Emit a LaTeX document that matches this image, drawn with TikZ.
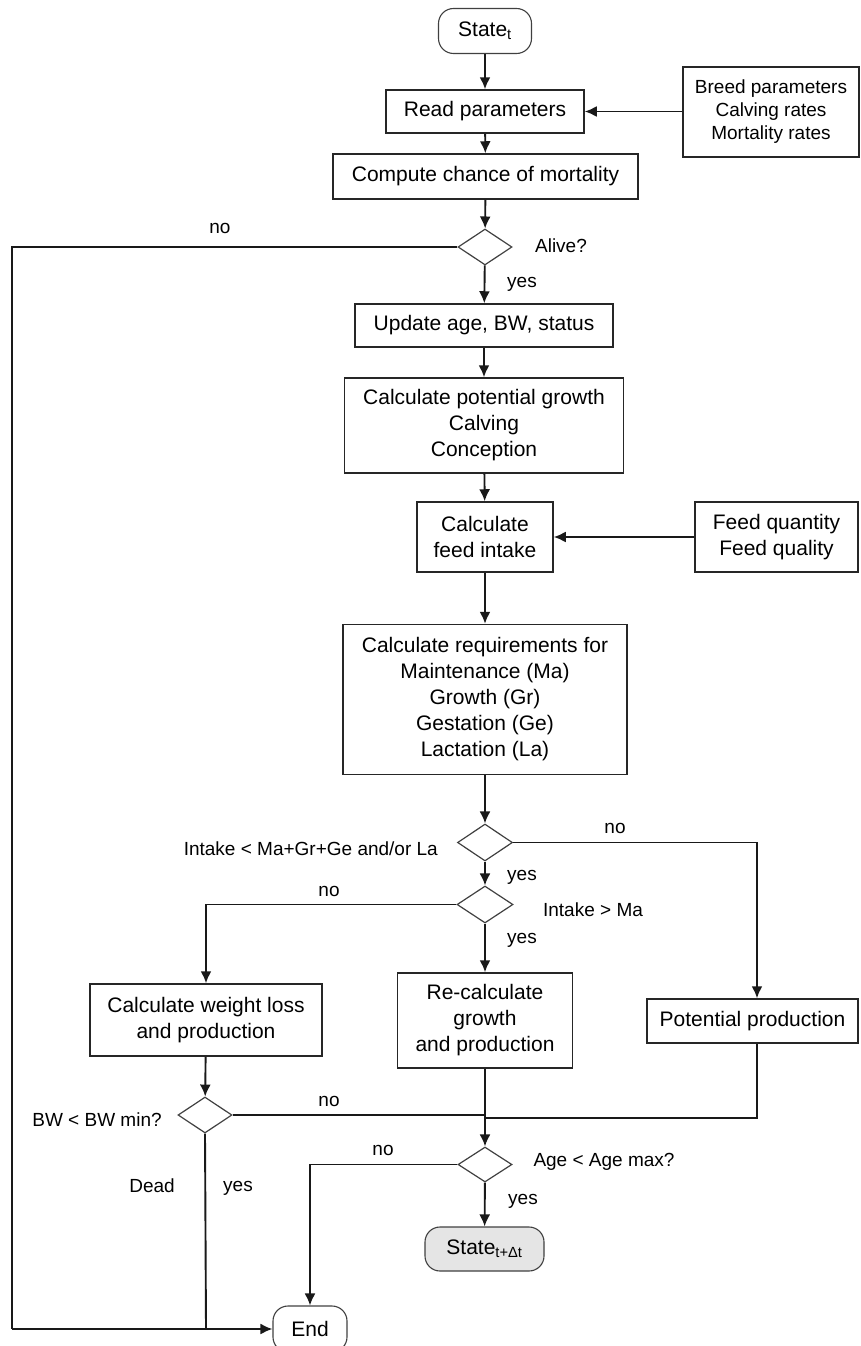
\documentclass[tikz,border=0pt]{standalone}
\usepackage{fontspec}
\setmainfont{Liberation Sans}
\usetikzlibrary{shapes.geometric,arrows.meta}
\begin{document}
\begin{tikzpicture}[x=1pt,y=-1pt,
  box/.style={draw=black!85, line width=1.5pt, inner sep=0pt, align=center, font=\fontsize{21}{26}\selectfont},
  term/.style={box, rounded corners=15pt, line width=1.1pt, draw=black!75},
  dec/.style={diamond, draw=black!75, line width=1.2pt, inner sep=0pt, minimum width=54pt, minimum height=36pt},
  lab/.style={font=\fontsize{19}{23}\selectfont, inner sep=0pt},
  arr/.style={-{Latex[length=12pt,width=11pt]}, line width=1.9pt, draw=black!90},
  ln/.style={line width=1.9pt, draw=black!90}]
\useasboundingbox (0,0) rectangle (860,1346);

\node[term, minimum width=93pt, minimum height=45pt] (st) at (485,31) {State\textsubscript{t}};
\node[box, minimum width=198pt, minimum height=43pt] (read) at (485,111.5) {Read parameters};
\node[box, minimum width=176pt, minimum height=90pt, font=\fontsize{19}{23}\selectfont] (breed) at (771,112) {Breed parameters\\Calving rates\\Mortality rates};
\node[box, minimum width=305pt, minimum height=45pt] (comp) at (485.5,176.5) {Compute chance of mortality};
\node[dec] (alive) at (485,247) {};
\node[box, minimum width=258pt, minimum height=43pt] (upd) at (484,325.5) {Update age, BW, status};
\node[box, minimum width=279pt, minimum height=95pt] (pot) at (484,425.5) {Calculate potential growth\\Calving\\Conception};
\node[box, minimum width=136pt, minimum height=70pt] (feed) at (485,537) {Calculate\\feed intake};
\node[box, minimum width=163pt, minimum height=70pt] (fq) at (776.5,537) {Feed quantity\\Feed quality};
\node[box, minimum width=284pt, minimum height=150pt] (req) at (485,699.5) {Calculate requirements for\\Maintenance (Ma)\\Growth (Gr)\\Gestation (Ge)\\Lactation (La)};
\node[dec, minimum width=55pt, minimum height=37pt] (d1) at (485,842.5) {};
\node[dec, minimum width=56pt, minimum height=37pt] (d2) at (485,904.5) {};
\node[box, minimum width=232pt, minimum height=72pt] (wl) at (206,1020) {Calculate weight loss\\and production};
\node[box, minimum width=175pt, minimum height=95pt] (rc) at (485,1020.5) {Re-calculate\\growth\\and production};
\node[box, minimum width=211pt, minimum height=44pt] (pp) at (752.5,1021) {Potential production};
\node[dec] (bw) at (205,1115) {};
\node[dec, minimum height=35pt] (age) at (485,1164.5) {};
\node[term, minimum width=119pt, minimum height=44pt, fill=black!10] (st2) at (484.5,1249) {State\textsubscript{t+Δt}};
\node[term, minimum width=74pt, minimum height=46pt] (end) at (310,1329) {End};

\coordinate (ltop) at (12,247);
\coordinate (lbot) at (12,1329);
\coordinate (bwbot) at (206,1329);
\coordinate (mjoin) at (485,1115);
\coordinate (pjoin) at (485,1118);

% connectors
\draw[arr] (st) -- (read);
\draw[arr] (breed.west |- read.east) -- (read.east);
\draw[arr] (read) -- (comp);
\draw[arr] (comp) -- (alive);
\draw[ln] (alive.west) -- (ltop) -- (lbot);
\draw[arr] (lbot) -- (end.west);
\draw[arr] (alive) -- (upd);
\draw[arr] (upd) -- (pot);
\draw[arr] (pot) -- (feed);
\draw[arr] (fq.west) -- (feed.east);
\draw[arr] (feed) -- (req);
\draw[arr] (req) -- (d1);
\draw[arr] (d1.east) -| ([xshift=4.5pt]pp.north);
\draw[arr] (d1) -- (d2);
\draw[arr] (d2.west) -| (wl.north);
\draw[arr] (d2) -- (rc);
\draw[arr] (wl) -- (bw);
\draw[ln] (bw.east) -- (mjoin);
\draw[ln] ([xshift=4.5pt]pp.south) |- (pjoin);
\draw[arr] (rc) -- (age);
\draw[ln] (bw.south) -- (bwbot);
\draw[arr] (age.west) -| (end.north);
\draw[arr] (age) -- (st2);

% labels
\node[lab] (l1) at (220,228) {no};
\node[lab] (l2) at (561,246) {Alive?};
\node[lab] (l3) at (522,284) {yes};
\node[lab, anchor=east] (l4) at (438,849) {Intake < Ma+Gr+Ge and/or La};
\node[lab] (l5) at (615,828) {no};
\node[lab] (l6) at (522,877) {yes};
\node[lab] (l7) at (329,891) {no};
\node[lab] (l8) at (593,910) {Intake > Ma};
\node[lab] (l9) at (522,940) {yes};
\node[lab] (l10) at (97,1120) {BW < BW min?};
\node[lab] (l11) at (329,1101) {no};
\node[lab] (l12) at (152,1186) {Dead};
\node[lab] (l13) at (238,1188) {yes};
\node[lab] (l14) at (383,1150) {no};
\node[lab] (l15) at (604,1162) {Age < Age max?};
\node[lab] (l16) at (523,1201) {yes};
\end{tikzpicture}
\end{document}
